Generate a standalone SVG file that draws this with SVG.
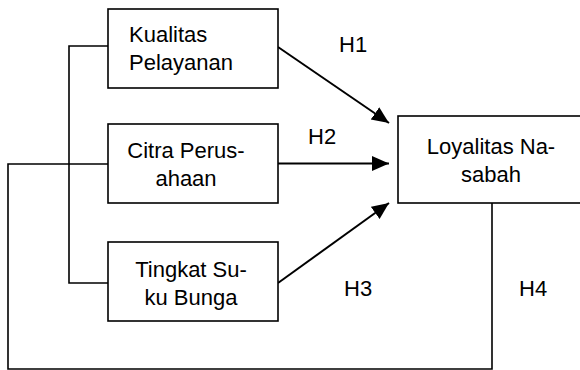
<svg xmlns="http://www.w3.org/2000/svg" width="580" height="370" viewBox="0 0 580 370">
<style>
.box{fill:#fff;stroke:#000;stroke-width:1.6}
.t{font-family:"Liberation Sans",Arial,sans-serif;font-size:22px;fill:#000}
.m{text-anchor:middle}
.c{fill:none;stroke:#000;stroke-width:1.6}
.a{fill:none;stroke:#000;stroke-width:2}
</style>
<defs>
<marker id="ah" markerUnits="userSpaceOnUse" markerWidth="20" markerHeight="16" refX="17" refY="7.5" orient="auto">
<path d="M0,0 L17,7.5 L0,15 z" fill="#000"/>
</marker>
</defs>
<rect width="580" height="370" fill="#fff"/>
<g id="connectors">
<polyline class="c" points="108,46 69,46 69,283 108,283"/>
<polyline class="c" points="108,164 8,164 8,369 492,369 492,203"/>
<line class="a" x1="278" y1="47" x2="389" y2="123" marker-end="url(#ah)"/>
<line class="a" x1="278" y1="163.5" x2="389" y2="163.5" marker-end="url(#ah)"/>
<line class="a" x1="278" y1="283" x2="389" y2="203" marker-end="url(#ah)"/>
<text class="t" x="339" y="52">H1</text>
<text class="t" x="308" y="144">H2</text>
<text class="t" x="344" y="296">H3</text>
<text class="t" x="519" y="296">H4</text>
</g>
<g id="kualitas">
<rect class="box" x="108" y="9" width="170" height="79"/>
<text class="t" x="129" y="42">Kualitas</text>
<text class="t" x="129" y="70">Pelayanan</text>
</g>
<g id="citra">
<rect class="box" x="108" y="124" width="170" height="79"/>
<text class="t m" x="186" y="158">Citra Perus-</text>
<text class="t m" x="186" y="186">ahaan</text>
</g>
<g id="tingkat">
<rect class="box" x="108" y="242" width="170" height="79"/>
<text class="t m" x="191" y="277">Tingkat Su-</text>
<text class="t m" x="191" y="305">ku Bunga</text>
</g>
<g id="loyalitas">
<rect class="box" x="398" y="116" width="200" height="87"/>
<text class="t m" x="491" y="154">Loyalitas Na-</text>
<text class="t m" x="491" y="182">sabah</text>
</g>
</svg>
